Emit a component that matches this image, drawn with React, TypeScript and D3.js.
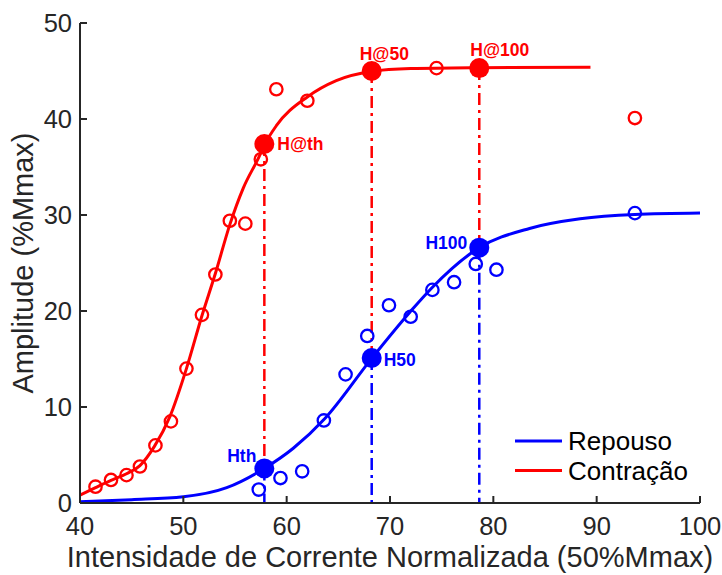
import React from "react";
import * as d3 from "d3";

// ---------- data ----------
const xTicks = [40, 50, 60, 70, 80, 90, 100];
const yTicks = [0, 10, 20, 30, 40, 50];

// Contração (red) measured points
const redPtX = [41.5, 43.0, 44.5, 45.8, 47.3, 48.8, 50.3, 51.8, 53.1, 54.5, 56.0, 57.5, 59.0, 62.0, 74.5, 93.7];
const redPtY = [1.7, 2.4, 2.9, 3.8, 6.0, 8.5, 14.0, 19.6, 23.8, 29.4, 29.1, 35.8, 43.1, 41.9, 45.3, 40.1];

// Repouso (blue) measured points
const bluePtX = [57.3, 59.4, 61.5, 63.6, 65.7, 67.8, 69.9, 72.0, 74.1, 76.2, 78.3, 80.3, 93.7];
const bluePtY = [1.4, 2.6, 3.3, 8.6, 13.4, 17.4, 20.6, 19.4, 22.2, 23.0, 24.9, 24.3, 30.2];

// fitted curves
const redCurveX = [40, 41.5, 43, 44.5, 45.8, 47.2, 48.7, 50.3, 51.8, 53.1, 54.5, 55.8, 57.3, 57.9, 59.0, 62.0, 64.8, 68.2, 72, 78.6, 89.4];
const redCurveY = [0.83, 1.6, 2.35, 3.05, 3.9, 5.9, 9.0, 14.0, 19.5, 23.9, 29.0, 32.8, 36.0, 37.4, 39.3, 42.3, 44.0, 44.95, 45.25, 45.35, 45.4];
const blueCurveX = [40, 45, 50, 54.2, 57.84, 60.64, 63.7, 68.23, 71.94, 74.04, 78.64, 83.5, 88.4, 93.7, 100];
const blueCurveY = [0.14, 0.35, 0.65, 1.6, 3.6, 5.7, 8.8, 15.07, 19.9, 22.4, 26.6, 28.6, 29.6, 30.05, 30.2];

// key markers
const markerX = [57.84, 68.23, 78.64];
const redMarkerY = [37.4, 45.0, 45.3];
const blueMarkerY = [3.6, 15.1, 26.6];
const redMarkerLabels = ["H@th", "H@50", "H@100"];
const blueMarkerLabels = ["Hth", "H50", "H100"];

const legendLabels = ["Repouso", "Contração"];
const xLabel = "Intensidade de Corrente Normalizada (50%Mmax)";
const yLabel = "Amplitude (%Mmax)";

// ---------- layout ----------
const W = 722;
const H = 575;
const left = 80;
const right = 700;
const top = 23;
const bottom = 503;

const RED = "#ff0000";
const BLUE = "#0000ff";
const AXIS = "#262626";
const FONT = "'Liberation Sans', Arial, Helvetica, sans-serif";

export default function App() {
  const x = d3.scaleLinear().domain([40, 100]).range([left, right]);
  const y = d3.scaleLinear().domain([0, 50]).range([bottom, top]);

  const line = d3
    .line<[number, number]>()
    .x((d) => x(d[0]))
    .y((d) => y(d[1]))
    .curve(d3.curveMonotoneX);

  const redCurve = line(redCurveX.map((v, i) => [v, redCurveY[i]]) as [number, number][]) || "";
  const blueCurve = line(blueCurveX.map((v, i) => [v, blueCurveY[i]]) as [number, number][]) || "";

  const dash = "12,5,3,5";

  // label offsets (style)
  const redLabelPos = [
    { dx: 13, dy: 6, anchor: "start" },
    { dx: -12, dy: -11, anchor: "start" },
    { dx: -9, dy: -12, anchor: "start" },
  ];
  const blueLabelPos = [
    { dx: -8, dy: -6, anchor: "end" },
    { dx: 12, dy: 8, anchor: "start" },
    { dx: -12, dy: 1, anchor: "end" },
  ];

  return (
    <svg
      width={W}
      height={H}
      style={{ position: "absolute", left: 0, top: 0, background: "#fff" }}
      fontFamily={FONT}
    >
      <rect x={0} y={0} width={W} height={H} fill="#fff" />

      {/* vertical dash-dot guides */}
      {markerX.map((mx, i) => (
        <line
          key={"rv" + i}
          x1={x(mx)}
          x2={x(mx)}
          y1={y(redMarkerY[i])}
          y2={y(blueMarkerY[i])}
          stroke={RED}
          strokeWidth={2.5}
          strokeDasharray={dash}
        />
      ))}
      {markerX.map((mx, i) => (
        <line
          key={"bv" + i}
          x1={x(mx)}
          x2={x(mx)}
          y1={y(blueMarkerY[i])}
          y2={y(0)}
          stroke={BLUE}
          strokeWidth={2.5}
          strokeDasharray={dash}
        />
      ))}

      {/* curves */}
      <path d={blueCurve} fill="none" stroke={BLUE} strokeWidth={3} />
      <path d={redCurve} fill="none" stroke={RED} strokeWidth={3} />

      {/* open points */}
      {bluePtX.map((v, i) => (
        <circle key={"bp" + i} cx={x(v)} cy={y(bluePtY[i])} r={6.2} fill="none" stroke={BLUE} strokeWidth={2.3} />
      ))}
      {redPtX.map((v, i) => (
        <circle key={"rp" + i} cx={x(v)} cy={y(redPtY[i])} r={6.2} fill="none" stroke={RED} strokeWidth={2.3} />
      ))}

      {/* filled markers */}
      {markerX.map((mx, i) => (
        <circle key={"rm" + i} cx={x(mx)} cy={y(redMarkerY[i])} r={10} fill={RED} />
      ))}
      {markerX.map((mx, i) => (
        <circle key={"bm" + i} cx={x(mx)} cy={y(blueMarkerY[i])} r={10} fill={BLUE} />
      ))}

      {/* marker labels */}
      {markerX.map((mx, i) => (
        <text
          key={"rl" + i}
          x={x(mx) + redLabelPos[i].dx}
          y={y(redMarkerY[i]) + redLabelPos[i].dy}
          textAnchor={redLabelPos[i].anchor}
          fill={RED}
          fontWeight="bold"
          fontSize={17.5}
        >
          {redMarkerLabels[i]}
        </text>
      ))}
      {markerX.map((mx, i) => (
        <text
          key={"bl" + i}
          x={x(mx) + blueLabelPos[i].dx}
          y={y(blueMarkerY[i]) + blueLabelPos[i].dy}
          textAnchor={blueLabelPos[i].anchor}
          fill={BLUE}
          fontWeight="bold"
          fontSize={17.5}
        >
          {blueMarkerLabels[i]}
        </text>
      ))}

      {/* axes */}
      <line x1={left} x2={left} y1={top} y2={bottom} stroke={AXIS} strokeWidth={2} />
      <line x1={left} x2={right} y1={bottom} y2={bottom} stroke={AXIS} strokeWidth={2} />
      {yTicks.map((t) => (
        <g key={"yt" + t}>
          <line x1={left} x2={left + 7} y1={y(t)} y2={y(t)} stroke={AXIS} strokeWidth={2} />
          <text x={left - 8} y={y(t) + 8.5} textAnchor="end" fontSize={25.5} fill={AXIS}>
            {t}
          </text>
        </g>
      ))}
      {xTicks.map((t) => (
        <g key={"xt" + t}>
          <line x1={x(t)} x2={x(t)} y1={bottom} y2={bottom - 7} stroke={AXIS} strokeWidth={2} />
          <text x={x(t)} y={535} textAnchor="middle" fontSize={25.5} fill={AXIS}>
            {t}
          </text>
        </g>
      ))}
      <text x={(left + right) / 2} y={567} textAnchor="middle" fontSize={29} fill={AXIS}>
        {xLabel}
      </text>
      <text
        transform={`translate(33,${(top + bottom) / 2}) rotate(-90)`}
        textAnchor="middle"
        fontSize={29}
        fill={AXIS}
      >
        {yLabel}
      </text>

      {/* legend */}
      {legendLabels.map((lab, i) => (
        <g key={"lg" + i} transform={`translate(0,${441 + i * 29.5})`}>
          <line x1={515} x2={562} y1={0} y2={0} stroke={i === 0 ? BLUE : RED} strokeWidth={3} />
          <text x={568} y={9} fontSize={26} fill="#000">
            {lab}
          </text>
        </g>
      ))}
    </svg>
  );
}
